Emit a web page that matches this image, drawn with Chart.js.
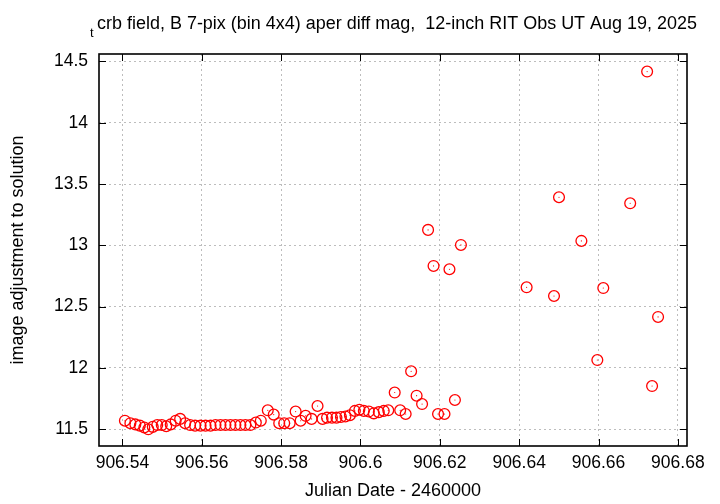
<!DOCTYPE html>
<html lang="en">
<head>
    <meta charset="UTF-8">
    <title>tcrb field diff mag</title>
    <script src="https://cdn.jsdelivr.net/npm/chart.js"></script>
    <style>
        body { margin: 0; background: #fff; }
    </style>
</head>
<body>
    <canvas id="magChart" width="720" height="504"></canvas>

    <script>
        // Julian Date - 2460000
        const jd = [
            906.54063, 906.54201, 906.54326, 906.54439, 906.54552, 906.54652, 906.54765, 906.54878,
            906.54991, 906.55104, 906.55217, 906.55343, 906.55455, 906.55581, 906.55706, 906.55832,
            906.55970, 906.56095, 906.56221, 906.56346, 906.56472, 906.56597, 906.56723, 906.56848,
            906.56974, 906.57099, 906.57225, 906.57363, 906.57488, 906.57664, 906.57814, 906.57952,
            906.58078, 906.58216, 906.58366, 906.58492, 906.58617, 906.58768, 906.58918, 906.59044,
            906.59157, 906.59282, 906.59395, 906.59508, 906.59621, 906.59734, 906.59859, 906.59972,
            906.60085, 906.60211, 906.60336, 906.60462, 906.60587, 906.60700, 906.60863, 906.61001,
            906.61139, 906.61277, 906.61415, 906.61553, 906.61704, 906.61842, 906.61955, 906.62118,
            906.62243, 906.62381, 906.62532, 906.64188, 906.64878, 906.65004, 906.65568, 906.65970,
            906.66120, 906.66798, 906.67225, 906.67350, 906.67501
        ];
        // image adjustment to solution
        const adj = [
            11.570, 11.550, 11.540, 11.530, 11.515, 11.500, 11.520, 11.535,
            11.535, 11.525, 11.540, 11.570, 11.585, 11.550, 11.535, 11.530,
            11.530, 11.530, 11.530, 11.535, 11.535, 11.535, 11.535, 11.535,
            11.535, 11.535, 11.535, 11.555, 11.570, 11.655, 11.620, 11.550,
            11.550, 11.550, 11.645, 11.570, 11.610, 11.585, 11.690, 11.585,
            11.595, 11.595, 11.595, 11.600, 11.605, 11.615, 11.650, 11.660,
            11.650, 11.645, 11.630, 11.640, 11.650, 11.655, 11.800, 11.655,
            11.625, 11.973, 11.774, 11.706, 13.126, 12.832, 11.625, 11.625,
            12.805, 11.739, 13.003, 12.658, 12.587, 13.392, 13.036, 12.065,
            12.652, 13.343, 14.417, 11.853, 12.416
        ];

        const xTicks = [906.54, 906.56, 906.58, 906.60, 906.62, 906.64, 906.66, 906.68];
        const yTicks = [11.5, 12, 12.5, 13, 13.5, 14, 14.5];

        const points = jd.map((x, i) => ({ x: x, y: adj[i] }));
        const fam = '"Liberation Sans", Arial, sans-serif';
        const tickFont = { family: fam, size: 17.5 };
        const titleFont = { family: fam, size: 18 };

        // gnuplot look: heavy frame, inward ticks on all sides, title with subscript
        const framePlugin = {
            id: 'frame',
            afterDraw(chart) {
                const c = chart.ctx;
                const a = chart.chartArea;
                const sx = chart.scales.x, sy = chart.scales.y;
                c.save();
                c.strokeStyle = '#000';
                c.lineWidth = 1;
                c.beginPath();
                xTicks.forEach(v => {
                    const px = Math.round(sx.getPixelForValue(v)) + 0.5;
                    c.moveTo(px, a.bottom); c.lineTo(px, a.bottom - 7);
                    c.moveTo(px, a.top); c.lineTo(px, a.top + 7);
                });
                yTicks.forEach(v => {
                    const py = Math.round(sy.getPixelForValue(v)) + 0.5;
                    c.moveTo(a.left, py); c.lineTo(a.left + 7, py);
                    c.moveTo(a.right, py); c.lineTo(a.right - 7, py);
                });
                c.stroke();

                c.lineWidth = 1.6;
                c.strokeRect(a.left, a.top, a.right - a.left, a.bottom - a.top);

                c.fillStyle = '#000';
                c.textAlign = 'left';
                c.textBaseline = 'alphabetic';
                c.font = '13px ' + fam;
                c.fillText('t', 90, 37);
                c.font = '18px ' + fam;
                c.fillText('crb field, B 7-pix (bin 4x4) aper diff mag,  12-inch RIT Obs UT Aug 19, 2025', 97, 29, 600);
                c.restore();
            }
        };

        const ctx = document.getElementById('magChart').getContext('2d');

        new Chart(ctx, {
            type: 'scatter',
            data: {
                datasets: [
                    {
                        data: points,
                        pointStyle: 'circle',
                        pointRadius: 5.4,
                        pointBorderWidth: 1.3,
                        borderColor: '#ff0000',
                        backgroundColor: 'rgba(0,0,0,0)'
                    },
                    {
                        data: points,
                        pointStyle: 'circle',
                        pointRadius: 0.6,
                        pointBorderWidth: 0,
                        borderColor: '#ff0000',
                        backgroundColor: '#ff0000'
                    }
                ]
            },
            options: {
                responsive: false,
                animation: false,
                events: [],
                layout: { padding: { top: 54, right: 33, left: 0, bottom: 0 } },
                plugins: {
                    legend: { display: false },
                    tooltip: { enabled: false }
                },
                scales: {
                    x: {
                        type: 'linear',
                        min: 906.5341,
                        max: 906.6823,
                        afterBuildTicks: s => { s.ticks = xTicks.map(v => ({ value: v })); },
                        afterFit: s => { s.height = 58; },
                        grid: { color: '#bdbdbd', lineWidth: 1, drawTicks: false },
                        border: { display: false, dash: [2, 3] },
                        ticks: {
                            padding: 7,
                            color: '#000',
                            font: tickFont,
                            autoSkip: false,
                            maxRotation: 0,
                            callback: v => String(Number(v.toFixed(2)))
                        },
                        title: {
                            display: true,
                            text: 'Julian Date - 2460000',
                            color: '#000',
                            font: titleFont,
                            padding: { top: 0, bottom: 2 }
                        }
                    },
                    y: {
                        min: 11.364,
                        max: 14.56,
                        afterBuildTicks: s => { s.ticks = yTicks.map(v => ({ value: v })); },
                        afterFit: s => { s.width = 99; },
                        grid: { color: '#bdbdbd', lineWidth: 1, drawTicks: false },
                        border: { display: false, dash: [2, 3] },
                        ticks: {
                            padding: 11,
                            color: '#000',
                            font: tickFont,
                            callback: v => String(v)
                        },
                        title: {
                            display: true,
                            text: 'image adjustment to solution',
                            color: '#000',
                            font: titleFont,
                            padding: { top: 7, bottom: 0 }
                        }
                    }
                }
            },
            plugins: [framePlugin]
        });
    </script>
</body>
</html>
